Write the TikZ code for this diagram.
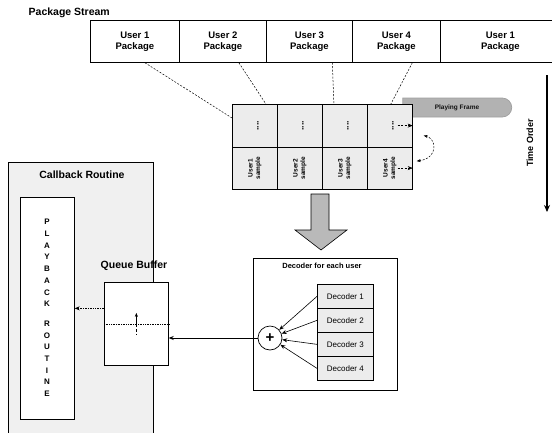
\documentclass[tikz,border=0pt]{standalone}
\usepackage{fontspec}
\setmainfont{Liberation Sans}
\usetikzlibrary{arrows.meta,positioning,shapes.misc}

\begin{document}
\begin{tikzpicture}[x=1pt, y=-1pt, line width=0.7pt,
    pkg/.style={draw, anchor=north west, inner sep=0pt, minimum height=42pt,
      align=center, font=\bfseries\fontsize{9.5}{11}\selectfont},
    cell/.style={draw, fill=gray!15, anchor=north west, inner sep=0pt,
      minimum width=45pt, minimum height=42.5pt},
    tinytxt/.style={font=\bfseries\fontsize{6.5}{7.5}\selectfont, rotate=90, align=center},
    feed/.style={dash pattern=on 2pt off 1.5pt, line width=0.5pt},
    title/.style={font=\bfseries\fontsize{10.5}{12}\selectfont},
    decbox/.style={draw, fill=gray!15, anchor=north west, inner sep=0pt,
      minimum width=56pt, minimum height=24pt, font=\fontsize{8}{9}\selectfont},
    tip/.style={-{Stealth[length=5pt,width=4pt]}}]
  \useasboundingbox (0,0) rectangle (552,432);

  % package stream
  \node[title, anchor=west] (stream) at (25,13) {Package Stream};
  \foreach \xa/\xb/\u [count=\i] in {90/179/1, 179/266/2, 266/352/3, 352/440/4, 440/560/1}
    \node[pkg, minimum width={(\xb-\xa)*1pt}] (p\i) at (\xa,20) {User \u\\Package};

  % time order
  \coordinate (t0) at (547,75);
  \coordinate (t1) at (547,212);
  \draw[line width=1.2pt, -{Stealth[length=7pt,width=6pt]}] (t0) -- (t1);
  \node[rotate=90, font=\bfseries\fontsize{9}{10}\selectfont] (time) at (530,143) {Time Order};

  % callout (drawn below the buffer)
  \node[rounded rectangle, rounded rectangle left arc=none, fill=gray!60, draw=gray!75,
    minimum width=109pt, minimum height=19pt, inner sep=0pt,
    font=\bfseries\fontsize{6.5}{7}\selectfont, text=gray!15!black] (play) at (457,107.5) {Playing Frame};

  % buffer: 4 users x 2 rows
  \foreach \c in {1,...,4} {
    \node[cell] (c\c1) at ({232+(\c-1)*45},104) {};
    \node[cell] (c\c2) at ({232+(\c-1)*45},146.5) {};
    \node[tinytxt, font=\bfseries\fontsize{9}{9}\selectfont] at ([xshift=3pt]c\c1.center) {....};
    \node[tinytxt] at (c\c2.center) {User\c\\sample};
  }
  \draw[feed, tip] ([xshift=-15pt]c41.east) -- (c41.east);
  \draw[feed, tip] ([xshift=-15pt]c42.east) -- (c42.east);
  \coordinate (sw0) at ([shift={(4pt,7pt)}]c42.east);
  \coordinate (sw1) at ([shift={(11pt,-10pt)}]c41.east);
  \draw[feed, {Stealth[length=4pt]}-{Stealth[length=4pt]}] (sw0) .. controls +(22,-3) and +(13,3) .. (sw1);

  % package -> buffer
  \draw[feed] ([xshift=10pt]p1.south) -- ([yshift=-14pt]c11.north west);
  \draw[feed] ([xshift=16pt]p2.south) -- ([xshift=11pt]c11.north);
  \draw[feed] ([xshift=23pt]p3.south) -- ([xshift=-11pt]c31.north);
  \draw[feed] ([xshift=16pt]p4.south) -- ([xshift=1pt]c41.north);

  % big down arrow
  \draw[fill=gray!55, line width=0.6pt] (311,194) -- (329,194) -- (329,230) -- (347,230)
    -- (321,250) -- (295,230) -- (311,230) -- cycle;

  % callback routine
  \node[draw, fill=gray!12, anchor=north west, inner sep=0pt,
    minimum width=145pt, minimum height=280pt] (cb) at (8,162) {};
  \node[title] (cbt) at (82,175) {Callback Routine};
  \node[draw, fill=white, anchor=north west, inner sep=0pt,
    minimum width=54pt, minimum height=222pt] (pb) at (20,197) {};
  \node[font=\bfseries\fontsize{8}{11.7}\selectfont, align=center] (pbt) at (47,308)
    {P\\L\\A\\Y\\B\\A\\C\\K\\[8pt]R\\O\\U\\T\\I\\N\\E};

  % queue buffer
  \node[title] (qbt) at (134,266) {Queue Buffer};
  \node[draw, fill=white, anchor=north west, inner sep=0pt,
    minimum width=64pt, minimum height=83pt] (qb) at (104,282) {};
  \draw[densely dotted] (qb.west) -- (qb.east);
  \draw[-{Stealth[length=4pt,width=3pt]}, line width=0.5pt] (qb.center) -- ([yshift=11pt]qb.center);
  \draw[densely dashed, line width=0.5pt] (qb.center) -- ([yshift=-11pt]qb.center);
  \coordinate (qa) at ([yshift=15.5pt]qb.west);
  \draw[densely dotted, tip] (qa) -- (qa -| pb.east);

  % decoder
  \node[draw, fill=white, anchor=north west, inner sep=0pt,
    minimum width=144pt, minimum height=132pt] (dec) at (253,258) {};
  \node[font=\bfseries\fontsize{7.5}{9}\selectfont] (dect) at (322,266) {Decoder for each user};
  \foreach \i in {1,...,4}
    \node[decbox] (d\i) at (317,{284+(\i-1)*24}) {Decoder \i};
  \node[draw, circle, minimum size=24pt, inner sep=0pt, fill=white,
    font=\bfseries\fontsize{15}{15}\selectfont] (sum) at (270,338) {+};
  \foreach \i in {1,...,4}
    \draw[tip, line width=0.6pt] (d\i.west) -- (sum);
  \draw[tip] (sum.west) -- (sum.west -| qb.east);
\end{tikzpicture}
\end{document}
